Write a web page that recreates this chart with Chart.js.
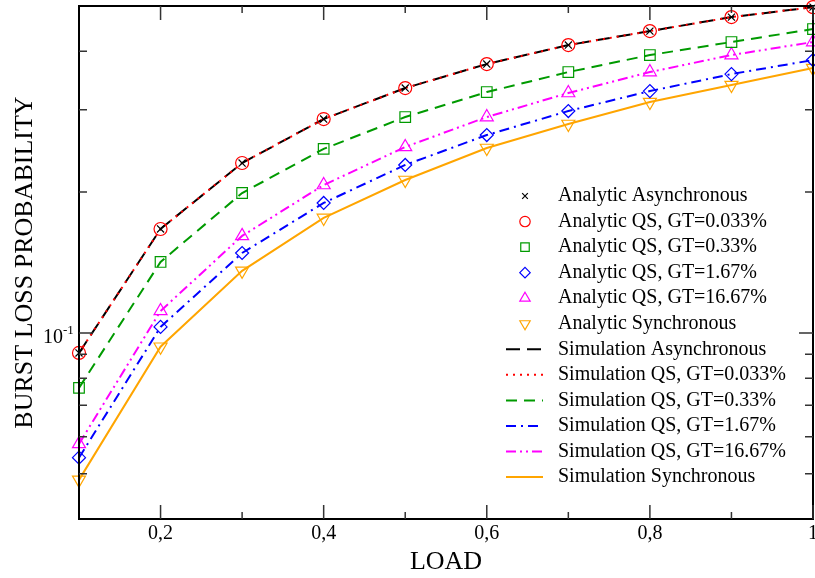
<!DOCTYPE html>
<html>
<head>
<meta charset="utf-8">
<script src="https://cdn.jsdelivr.net/npm/chart.js@4/dist/chart.umd.min.js"></script>
<style>
  body { margin: 0; background: #fff; }
  canvas { display: block; }
</style>
</head>
<body>
<canvas id="chart" width="815" height="578"></canvas>
<script>
const loads = [0.1, 0.2, 0.3, 0.4, 0.5, 0.6, 0.7, 0.8, 0.9, 1.0];

// burst loss probability
const asyncLoss  = [0.0906, 0.1668, 0.2308, 0.2866, 0.3338, 0.3757, 0.4125, 0.4419, 0.4734, 0.4972];
const qs0033Loss = [0.0906, 0.1668, 0.2308, 0.2866, 0.3338, 0.3757, 0.4125, 0.4419, 0.4734, 0.4972];
const qs033Loss  = [0.0763, 0.1418, 0.1991, 0.2474, 0.2894, 0.3273, 0.3612, 0.3927, 0.4187, 0.4463];
const qs167Loss  = [0.0541, 0.1030, 0.1482, 0.1896, 0.2286, 0.2649, 0.2981, 0.3289, 0.3576, 0.3832];
const qs1667Loss = [0.0579, 0.1114, 0.1612, 0.2071, 0.2498, 0.2894, 0.3258, 0.3612, 0.3927, 0.4187];
const syncLoss   = [0.0485, 0.0934, 0.1357, 0.1761, 0.2123, 0.2485, 0.2797, 0.3116, 0.3388, 0.3683];

const xMajor = [0.2, 0.4, 0.6, 0.8, 1.0];
const xMinor = [0.3, 0.5, 0.7, 0.9];
const xTickLabels = ['0,2', '0,4', '0,6', '0,8', '1'];
const yMajor = [0.1];
const yMinor = [0.05, 0.06, 0.07, 0.08, 0.09, 0.2, 0.3, 0.4];

const serif = "'Liberation Serif', 'Times New Roman', serif";

function series(label, values, color, extra) {
  return Object.assign({
    label,
    data: loads.map((x, i) => ({ x, y: values[i] })),
    borderColor: color,
    backgroundColor: 'rgba(0,0,0,0)',
    pointBackgroundColor: 'rgba(0,0,0,0)',
    pointBorderColor: color,
    clip: false,
    tension: 0
  }, extra);
}

const marker = (style, r, order, rot) => ({ showLine: false, pointStyle: style, pointRadius: r, pointBorderWidth: 1.2, pointRotation: rot || 0, order });
const curve = (dash, order) => ({ pointRadius: 0, borderWidth: 2, borderDash: dash, order });

const datasets = [
  series('Analytic Asynchronous', asyncLoss, '#000000', marker('crossRot', 5, 0)),
  series('Analytic QS, GT=0.033%', qs0033Loss, '#ff0000', marker('circle', 6.5, 0)),
  series('Analytic QS, GT=0.33%', qs033Loss, '#009a00', marker('rect', 7.5, 0)),
  series('Analytic QS, GT=1.67%', qs167Loss, '#0000ff', marker('rectRot', 6.5, 0)),
  series('Analytic QS, GT=16.67%', qs1667Loss, '#ff00ff', marker('triangle', 7.5, 0)),
  series('Analytic Synchronous', syncLoss, '#ffa500', marker('triangle', 7.5, 0, 180)),
  series('Simulation Asynchronous', asyncLoss, '#000000', curve([14, 7], 3)),
  series('Simulation QS, GT=0.033%', qs0033Loss, '#ff0000', curve([2, 5], 1)),
  series('Simulation QS, GT=0.33%', qs033Loss, '#009a00', curve([11, 7], 2)),
  series('Simulation QS, GT=1.67%', qs167Loss, '#0000ff', curve([10, 5, 2, 5], 2)),
  series('Simulation QS, GT=16.67%', qs1667Loss, '#ff00ff', curve([10, 4, 2, 4, 2, 4], 2)),
  series('Simulation Synchronous', syncLoss, '#ffa500', curve([], 2))
];

// frame, inward ticks, 10^-1 label and the legend inside the plot
const axisDecor = {
  id: 'axisDecor',
  afterDraw(chart) {
    const { ctx, chartArea: a, scales: { x, y } } = chart;
    ctx.save();
    ctx.strokeStyle = '#000';
    ctx.lineWidth = 2;
    ctx.strokeRect(a.left, a.top, a.right - a.left, a.bottom - a.top);

    ctx.strokeStyle = '#333';
    ctx.lineWidth = 1.5;
    ctx.beginPath();
    const xt = (v, len) => {
      const p = x.getPixelForValue(v);
      ctx.moveTo(p, a.bottom); ctx.lineTo(p, a.bottom - len);
      ctx.moveTo(p, a.top); ctx.lineTo(p, a.top + len);
    };
    const yt = (v, len) => {
      const p = y.getPixelForValue(v);
      ctx.moveTo(a.left, p); ctx.lineTo(a.left + len, p);
      ctx.moveTo(a.right, p); ctx.lineTo(a.right - len, p);
    };
    xMajor.forEach(v => xt(v, 14));
    xMinor.forEach(v => xt(v, 7));
    yMajor.forEach(v => yt(v, 14));
    yMinor.forEach(v => yt(v, 8));
    ctx.stroke();

    const py = y.getPixelForValue(0.1);
    ctx.fillStyle = '#000';
    ctx.font = `20px ${serif}`;
    ctx.textAlign = 'right';
    ctx.textBaseline = 'alphabetic';
    ctx.fillText('10', 63, py + 10);
    ctx.font = `13px ${serif}`;
    ctx.textAlign = 'left';
    ctx.fillText('-1', 63, py + 1);

    const top = 196, step = 25.55;
    ctx.font = `20px ${serif}`;
    ctx.textBaseline = 'middle';
    chart.data.datasets.forEach((ds, i) => {
      const cy = top + i * step;
      ctx.strokeStyle = ds.borderColor;
      ctx.fillStyle = 'rgba(0,0,0,0)';
      if (ds.showLine === false) {
        ctx.lineWidth = ds.pointBorderWidth;
        ctx.setLineDash([]);
        Chart.helpers.drawPoint(ctx, {
          pointStyle: ds.pointStyle,
          radius: ds.pointRadius * 0.8,
          rotation: ds.pointRotation,
          borderWidth: ds.pointBorderWidth
        }, 525, cy);
      } else {
        ctx.lineWidth = ds.borderWidth;
        ctx.setLineDash(ds.borderDash);
        ctx.beginPath();
        ctx.moveTo(506, cy);
        ctx.lineTo(543, cy);
        ctx.stroke();
        ctx.setLineDash([]);
      }
      ctx.fillStyle = '#000';
      ctx.fillText(ds.label, 558, cy);
    });
    ctx.restore();
  }
};

new Chart(document.getElementById('chart'), {
  type: 'line',
  data: { datasets },
  options: {
    responsive: false,
    animation: false,
    events: [],
    layout: { autoPadding: false, padding: { top: 6, right: 2, left: 0, bottom: 0 } },
    plugins: { legend: { display: false }, tooltip: { enabled: false } },
    scales: {
      x: {
        type: 'linear',
        min: 0.1,
        max: 1.0,
        grid: { display: false, drawTicks: false },
        border: { display: false },
        afterBuildTicks: s => { s.ticks = xMajor.map(v => ({ value: v })); },
        afterFit: s => { s.height = 59; s.paddingLeft = 0; s.paddingRight = 0; },
        ticks: {
          autoSkip: false,
          maxRotation: 0,
          padding: 3,
          color: '#000',
          font: { family: serif, size: 20 },
          callback: (v, i) => xTickLabels[i]
        },
        title: {
          display: true,
          text: 'LOAD',
          color: '#000',
          font: { family: serif, size: 26 },
          padding: { top: 0, bottom: 0 }
        }
      },
      y: {
        type: 'logarithmic',
        min: 0.04,
        max: 0.5,
        grid: { display: false, drawTicks: false },
        border: { display: false },
        ticks: { display: false },
        afterFit: s => { s.width = 79; },
        title: {
          display: true,
          text: 'BURST LOSS PROBABILITY',
          color: '#000',
          font: { family: serif, size: 26 },
          padding: { top: 10, bottom: 0 }
        }
      }
    }
  },
  plugins: [axisDecor]
});
</script>
</body>
</html>
